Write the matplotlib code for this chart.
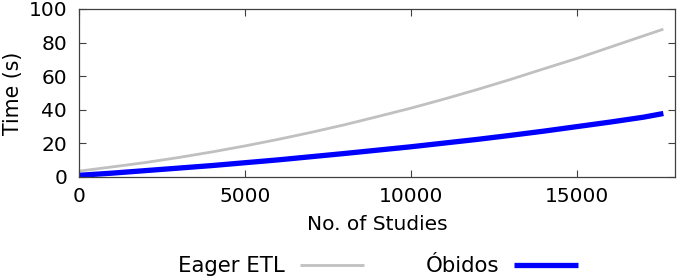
import numpy as np
import matplotlib
matplotlib.use("Agg")
import matplotlib.pyplot as plt

# values
studies = [0, 1000, 2000, 3000, 4000, 5000, 6000, 7000, 8000, 9000,
           10000, 11000, 12000, 13000, 14000, 15000, 16000, 17000, 17600]
eager_etl = [3.5, 6.0, 8.6, 11.6, 14.9, 18.5, 22.4, 26.6, 31.1, 36.0,
             41.0, 46.4, 52.1, 58.1, 64.4, 70.6, 77.3, 84.0, 88.0]
obidos = [1.0, 2.3, 3.8, 5.3, 6.8, 8.5, 10.2, 12.1, 14.0, 16.0,
          18.0, 20.2, 22.4, 24.8, 27.3, 30.0, 32.7, 35.6, 37.8]

x_ticks = [0, 5000, 10000, 15000]
y_ticks = [0, 20, 40, 60, 80, 100]

plt.rcParams['font.family'] = ['DejaVu Sans']
plt.rcParams['font.size'] = 14.5

fig = plt.figure(figsize=(6.77, 2.8), dpi=100)
ax = fig.add_axes([79 / 677, 1 - 177 / 280, (675 - 79) / 677, (177 - 9) / 280])

ax.plot(studies, eager_etl, color='#c0c0c0', linewidth=2.0, label='Eager ETL',
        solid_capstyle='butt')
ax.plot(studies, obidos, color='#0000ff', linewidth=3.8, label='Óbidos',
        solid_capstyle='butt')

ax.set_xlim(0, 17950)
ax.set_ylim(0, 100)
ax.set_xticks(x_ticks)
ax.set_yticks(y_ticks)
ax.tick_params(direction='in', length=5, width=0.8, top=True, right=True,
               color='#404040')
ax.tick_params(axis='x', pad=7)
ax.tick_params(axis='y', pad=8.5)
for s in ax.spines.values():
    s.set_linewidth(0.9)
    s.set_color('#404040')

ax.set_xlabel('No. of Studies', labelpad=6.5)
ax.set_ylabel('Time (s)', fontsize=14.8)
ax.yaxis.set_label_coords((23 - 79) / 596, 0.5)

fig.legend(loc='center', bbox_to_anchor=(378 / 677, 1 - 266 / 280), ncol=2,
           frameon=False, markerfirst=False, handlelength=3.0,
           handletextpad=0.7, columnspacing=2.9, borderaxespad=0,
           fontsize=15.3)

fig.savefig('out.png', dpi=100)
